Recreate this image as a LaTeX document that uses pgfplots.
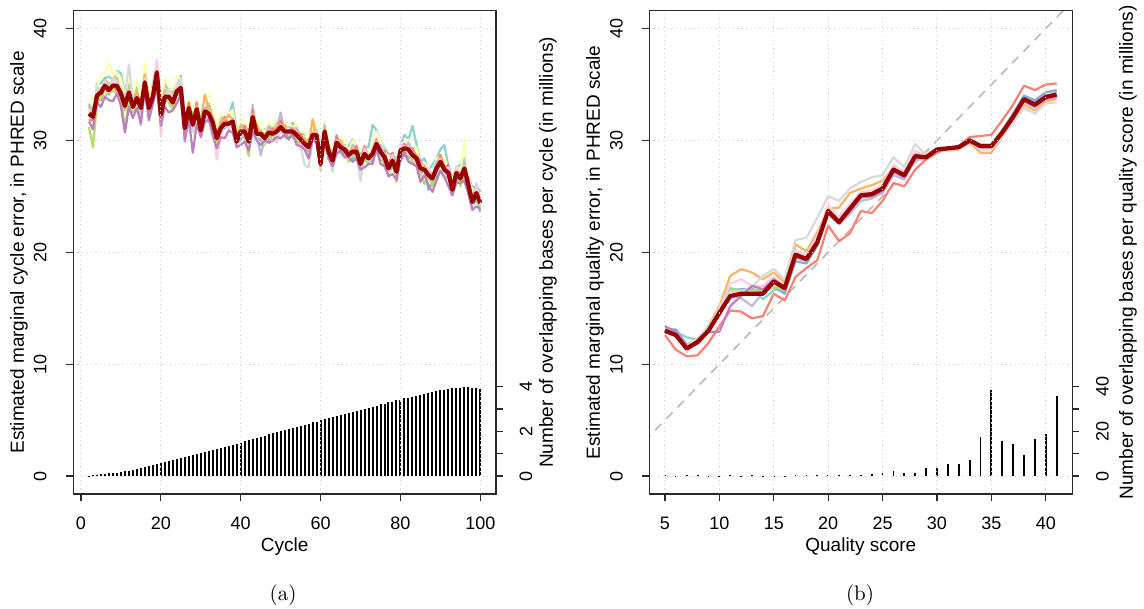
\documentclass[border=0pt]{standalone}
\usepackage{fontspec}
\setsansfont{Liberation Sans}
\usepackage{pgfplots}
\usepackage{pgfplotstable}
\pgfplotsset{compat=1.18}

% Set3 palette for the individual runs, dark red for the consensus
\definecolor{sTeal}{HTML}{8DD3C7}
\definecolor{sYellow}{HTML}{FFFFB3}
\definecolor{sLav}{HTML}{BEBADA}
\definecolor{sSalmon}{HTML}{FB8072}
\definecolor{sBlue}{HTML}{80B1D3}
\definecolor{sOrange}{HTML}{FDB462}
\definecolor{sGreen}{HTML}{B3DE69}
\definecolor{sPink}{HTML}{FCCDE5}
\definecolor{sGray}{HTML}{D9D9D9}
\definecolor{sPurple}{HTML}{BC80BD}
\definecolor{cons}{HTML}{990000}
\definecolor{gridgray}{HTML}{D3D3D3}
\definecolor{framec}{HTML}{2A2A2A}

% cycle, consensus R, ten runs, overlapping bases n (millions)
\pgfplotstableread{
c R t y l s b o g p gr pu n
2 32.4 33.3 33.6 32.1 31.8 33.1 33.1 31.2 32.5 32.8 31.7 0.02
3 32.1 32.5 33.4 32.2 31.8 32.1 32.1 29.4 32.7 32.4 31.0 0.04
4 34.0 35.1 34.8 33.6 33.8 34.4 34.3 33.2 33.9 34.8 33.4 0.06
5 34.3 35.1 35.8 34.6 33.6 34.2 34.7 33.9 34.5 34.4 33.0 0.08
6 34.9 35.6 36.0 34.9 34.9 35.5 34.8 34.0 35.2 35.4 33.9 0.10
7 34.5 35.7 37.0 34.4 34.1 34.8 35.1 34.3 34.3 34.5 33.6 0.12
8 34.9 35.4 35.8 35.3 35.0 35.1 35.1 34.4 35.4 35.6 33.5 0.14
9 34.9 36.2 36.1 34.6 34.3 35.6 35.6 34.3 35.0 35.3 34.2 0.16
10 34.2 36.0 35.5 34.3 33.9 34.2 34.2 34.1 34.8 34.5 33.1 0.19
11 33.1 34.2 33.9 32.7 32.9 33.5 33.4 30.9 33.0 33.9 30.7 0.22
12 34.3 35.1 35.8 34.6 33.6 34.2 34.7 33.9 34.5 36.8 33.0 0.25
13 33.0 33.7 34.1 33.0 33.0 33.6 32.9 32.1 33.3 33.5 32.0 0.28
14 33.8 35.0 35.4 33.7 33.4 34.1 34.4 33.6 33.6 33.8 32.9 0.32
15 32.9 33.4 33.8 33.3 33.0 33.1 33.1 32.4 33.4 31.3 31.5 0.36
16 35.2 36.1 36.9 34.9 34.6 35.9 35.9 34.6 35.3 35.6 34.5 0.40
17 32.9 33.3 34.2 33.0 32.6 32.9 32.9 32.8 33.5 33.2 31.8 0.44
18 33.9 35.0 34.7 33.5 33.7 34.3 34.2 33.1 33.8 34.7 33.3 0.49
19 36.1 36.9 36.8 36.4 35.4 36.0 36.5 35.7 37.2 36.2 34.8 0.54
20 32.3 33.0 33.4 32.3 32.3 32.9 32.2 31.4 30.4 32.8 31.3 0.59
21 33.9 35.1 35.5 33.8 33.5 34.2 34.5 33.7 33.7 33.9 33.0 0.64
22 33.9 34.4 34.8 34.3 34.0 34.1 34.1 33.4 34.4 34.6 32.5 0.68
23 33.4 34.3 34.6 33.1 32.8 34.1 34.1 32.8 33.5 33.8 32.7 0.73
24 34.4 34.8 35.7 34.5 34.1 34.4 34.4 34.3 35.0 34.7 33.3 0.78
25 34.7 35.8 35.5 34.3 34.5 35.1 35.0 33.9 34.6 35.5 34.1 0.82
26 31.1 31.7 32.3 31.6 30.9 30.4 31.6 31.0 30.8 30.6 29.9 0.87
27 32.9 33.4 33.7 33.1 33.4 32.9 32.9 32.3 32.7 32.8 32.0 0.91
28 31.4 32.4 32.7 31.5 31.5 31.1 32.1 31.5 30.7 30.8 28.9 0.96
29 32.8 33.1 33.4 33.4 33.4 32.4 33.1 32.6 32.8 32.9 31.5 1.00
30 30.9 31.6 31.8 30.8 30.8 31.0 31.7 30.6 30.5 30.7 30.3 1.05
31 32.6 32.8 33.6 32.9 32.8 32.0 34.1 32.8 32.7 32.3 31.6 1.09
32 32.4 33.3 34.2 32.2 32.7 32.2 32.8 31.9 31.8 32.6 31.9 1.14
33 31.6 32.2 32.8 32.1 31.4 30.9 32.1 31.5 31.3 31.1 30.4 1.18
34 30.2 30.7 31.0 30.4 30.7 30.2 30.2 29.6 28.3 30.1 29.3 1.23
35 31.1 32.1 32.4 31.2 31.2 30.8 31.8 31.2 30.4 30.5 30.3 1.27
36 31.5 31.8 32.1 32.1 32.1 31.1 31.8 31.3 31.5 31.6 30.2 1.32
37 31.5 32.2 32.4 31.4 31.4 31.6 32.3 31.2 31.1 31.3 30.9 1.36
38 31.7 33.4 32.7 32.0 31.9 31.1 31.8 31.9 31.8 31.4 30.7 1.41
39 29.9 30.8 30.4 29.7 30.2 29.7 30.3 29.4 29.3 30.1 29.4 1.45
40 30.8 31.4 32.0 31.3 30.6 30.1 31.3 30.7 30.5 30.3 29.6 1.50
41 30.8 31.3 31.6 31.0 31.3 30.8 30.8 30.2 30.6 30.7 29.9 1.55
42 29.9 30.9 31.2 30.0 30.0 29.6 30.6 28.6 29.2 29.3 29.1 1.60
43 32.1 32.4 32.7 33.2 32.7 31.7 32.4 31.9 32.1 32.2 30.8 1.65
44 30.6 31.3 31.5 30.5 30.5 30.7 31.4 30.3 30.2 30.4 30.0 1.70
45 30.6 30.8 31.6 28.7 30.8 30.0 30.7 30.8 30.7 30.3 29.6 1.76
46 30.2 31.0 30.5 30.1 30.5 30.0 30.4 29.6 29.8 30.0 30.0 1.81
47 30.7 31.2 31.7 31.3 30.5 30.0 31.0 30.5 30.6 29.8 29.8 1.86
48 30.6 31.0 31.2 30.9 31.1 30.6 30.4 29.9 30.6 30.1 30.0 1.91
49 30.8 31.7 31.9 31.0 30.9 30.5 31.3 30.8 30.3 29.8 30.3 1.96
50 31.2 31.4 31.6 32.5 31.8 30.8 31.3 30.9 31.4 30.9 30.2 2.01
51 30.8 31.4 31.5 30.8 30.7 30.9 31.4 30.4 30.6 30.2 30.5 2.06
52 30.8 30.9 31.6 31.2 31.0 30.2 30.7 30.9 31.1 30.1 30.1 2.11
53 30.8 31.6 31.1 30.7 31.1 30.6 31.0 30.2 30.4 30.6 30.6 2.16
54 30.5 31.0 31.5 31.1 30.3 29.8 30.8 30.3 30.4 29.6 29.6 2.21
55 30.1 30.5 30.7 30.4 30.6 30.1 29.9 29.4 30.1 29.6 29.5 2.25
56 29.7 30.6 30.8 29.9 29.8 29.4 30.2 29.7 29.2 27.8 29.2 2.30
57 29.4 29.6 29.8 30.1 30.0 29.0 29.5 29.1 29.6 27.6 28.4 2.35
58 30.5 31.1 31.2 30.5 30.4 30.6 31.9 30.1 30.3 29.9 30.2 2.40
59 30.5 30.6 31.3 30.9 30.7 29.9 30.4 30.6 30.8 29.8 29.8 2.44
60 27.9 28.7 28.2 27.8 28.2 27.7 28.1 27.3 27.5 27.7 27.7 2.49
61 30.8 31.3 31.8 31.4 30.6 30.1 31.1 30.6 30.7 29.9 29.9 2.54
62 29.0 29.4 29.6 29.3 29.5 29.0 28.8 28.3 29.0 28.5 28.4 2.59
63 28.2 29.1 29.3 28.4 28.3 27.9 28.7 28.2 27.7 27.2 27.7 2.64
64 29.8 30.0 30.2 30.5 30.4 29.4 29.9 29.5 30.0 29.5 28.8 2.69
65 29.4 30.0 30.1 29.4 29.3 29.5 30.0 29.0 29.2 28.8 29.1 2.74
66 29.2 29.3 30.0 29.6 29.4 28.6 29.1 29.3 29.5 28.5 28.5 2.78
67 28.7 29.5 29.0 28.6 29.0 28.5 28.9 28.1 28.3 28.5 28.5 2.83
68 29.0 30.1 30.0 29.6 28.8 28.3 29.3 28.8 28.9 28.1 28.1 2.88
69 29.0 29.4 29.6 29.3 29.5 29.0 28.8 28.3 29.0 28.5 28.4 2.92
70 27.9 28.8 29.0 28.1 28.0 27.6 28.4 27.9 27.4 26.4 27.4 2.97
71 28.8 29.4 29.1 29.5 29.5 28.3 28.7 28.4 29.3 28.9 27.6 3.02
72 28.4 29.4 29.0 28.4 28.4 28.4 28.8 27.9 28.5 28.2 27.9 3.06
73 28.8 31.4 29.5 29.2 29.1 28.1 28.5 28.8 29.4 28.5 27.9 3.11
74 29.7 30.9 30.8 29.6 30.1 29.4 29.7 29.0 29.6 29.9 29.3 3.15
75 29.0 29.9 29.9 29.6 28.9 28.2 29.1 28.7 29.2 28.5 27.9 3.20
76 28.5 29.3 29.0 28.8 29.1 28.4 28.1 27.7 28.8 28.4 27.7 3.24
77 27.5 28.8 28.5 27.7 27.7 27.1 27.8 27.4 27.3 26.9 26.8 3.29
78 28.2 28.8 28.5 28.9 28.9 27.7 28.1 27.8 28.7 28.3 27.0 3.33
79 27.2 28.2 27.8 27.2 27.2 27.2 26.3 26.7 27.3 27.0 26.5 3.38
80 29.1 29.6 29.8 29.5 29.4 28.4 28.8 29.1 29.7 28.8 28.2 3.42
81 29.3 30.5 29.5 29.2 29.7 29.0 29.3 28.6 29.2 29.5 28.9 3.47
82 29.2 30.1 30.1 29.8 29.1 28.4 29.3 28.9 29.4 28.7 28.1 3.51
83 28.7 31.3 29.2 29.0 29.3 28.6 28.3 27.9 29.0 28.6 27.9 3.55
84 28.4 29.7 29.4 28.6 28.6 28.0 28.7 28.3 28.2 27.8 27.7 3.59
85 27.5 28.1 27.8 28.2 28.2 27.0 27.4 27.1 28.0 27.6 26.3 3.63
86 27.4 28.4 28.0 27.4 27.4 27.4 27.8 26.1 27.5 27.2 26.9 3.67
87 26.9 27.4 27.6 27.3 27.2 25.6 26.6 26.9 27.5 26.6 26.0 3.71
88 26.6 27.8 26.8 26.5 27.0 26.3 26.6 25.9 26.5 26.8 25.4 3.75
89 27.5 28.4 28.4 28.1 27.4 26.7 27.6 27.2 27.7 27.0 26.4 3.79
90 28.1 29.2 28.6 28.4 28.7 28.0 27.7 27.3 28.4 28.0 27.3 3.83
91 27.4 29.6 28.4 27.6 27.6 27.0 27.7 27.3 27.2 26.8 26.7 3.86
92 27.1 27.7 27.4 27.8 27.8 26.6 27.0 26.7 27.6 27.2 25.9 3.89
93 25.6 26.6 26.2 25.6 25.6 25.6 26.0 25.1 25.7 25.4 25.1 3.92
94 27.1 27.6 27.8 27.5 27.4 26.4 26.8 27.1 27.7 26.8 26.2 3.94
95 26.6 27.8 26.8 26.5 27.0 26.3 26.6 25.9 26.5 26.8 26.2 3.95
96 27.5 28.4 30.0 28.1 27.4 26.7 27.6 27.2 27.7 27.0 26.4 3.96
97 26.0 26.8 26.6 26.3 26.6 25.9 25.6 25.2 26.3 25.9 25.2 3.96
98 24.5 25.8 25.5 24.7 24.7 24.1 24.8 24.4 24.3 23.9 23.8 3.95
99 25.3 25.9 25.6 26.0 26.0 24.8 25.2 24.9 25.8 26.2 24.1 3.94
100 24.4 25.4 25.0 24.4 24.4 23.6 24.0 23.9 24.5 24.2 23.9 3.90
}\cyc

% quality score, consensus R, ten runs, overlapping bases n (millions)
\pgfplotstableread{
q R t y l s b o g p gr pu n
5 13.0 12.8 12.9 13.2 12.6 12.8 13.0 12.9 13.0 13.1 13.4 0.3
6 12.6 12.9 12.6 13.1 11.3 13.1 12.5 12.5 12.7 12.9 12.9 0.2
7 11.4 12.4 11.5 11.8 10.7 11.7 11.5 11.6 11.1 11.6 11.6 0.5
8 12.0 12.2 12.1 12.1 10.8 12.0 12.2 12.3 12.1 12.3 11.8 0.4
9 13.0 13.0 13.1 13.0 11.9 12.9 13.4 13.0 13.2 13.3 12.9 0.2
10 14.6 14.7 14.8 14.3 13.4 14.6 15.2 14.7 15.0 15.0 12.9 0.2
11 16.1 16.8 16.4 16.1 14.8 16.6 17.9 16.7 17.2 16.5 15.2 0.3
12 16.3 16.6 16.6 15.9 14.7 16.7 18.5 16.6 17.6 16.5 16.1 0.2
13 16.3 16.8 16.6 15.2 14.1 16.7 18.2 16.6 17.0 16.9 17.0 0.3
14 16.3 15.8 16.6 16.4 14.3 16.5 17.6 16.6 17.0 17.9 16.7 0.2
15 17.4 16.6 17.6 17.3 16.3 16.9 18.2 16.9 17.8 18.5 17.6 0.2
16 16.8 17.0 17.0 16.5 15.7 16.3 17.3 16.7 16.9 17.6 16.9 0.2
17 19.8 19.6 20.0 19.5 17.8 19.2 20.7 19.6 20.2 21.1 19.6 0.3
18 19.4 19.5 19.6 19.2 18.6 19.0 20.1 19.4 19.7 21.3 19.3 0.6
19 20.9 20.8 21.0 20.6 19.3 20.6 21.8 20.8 21.5 23.1 20.7 0.4
20 23.7 23.8 23.9 23.4 22.4 23.4 23.9 23.6 24.2 25.0 23.5 0.7
21 22.7 22.8 23.0 22.5 21.0 22.6 24.0 22.7 23.2 24.6 22.6 0.4
22 23.9 24.0 24.2 23.4 21.7 23.8 25.3 23.9 24.3 25.7 23.7 0.6
23 25.1 25.2 25.4 24.6 23.7 25.0 25.7 25.1 25.4 26.3 24.9 0.7
24 25.2 25.3 25.6 24.8 23.5 25.1 26.0 25.2 25.5 26.7 25.0 0.9
25 25.7 25.8 26.0 25.3 24.6 25.6 26.4 25.7 26.0 26.9 25.5 1.5
26 27.4 27.3 27.5 26.9 26.2 27.2 27.6 27.3 27.8 28.5 27.2 2.2
27 26.9 26.9 27.1 26.5 25.9 26.8 27.2 26.8 27.2 27.6 26.7 1.6
28 28.6 28.6 28.7 28.3 27.4 28.5 28.8 28.6 29.1 29.7 28.5 1.5
29 28.5 28.5 28.5 28.3 28.3 28.5 28.6 28.5 28.6 28.7 28.4 3.6
30 29.2 29.2 29.1 29.1 28.9 29.2 29.1 29.2 29.2 29.2 29.1 3.6
31 29.3 29.3 29.2 29.2 29.3 29.3 29.1 29.3 29.3 29.2 29.2 5.4
32 29.4 29.5 29.3 29.3 29.5 29.5 29.2 29.4 29.4 29.2 29.3 5.4
33 30.0 30.1 29.9 29.9 30.3 30.1 29.8 30.0 30.0 29.9 29.9 7.3
34 29.5 29.6 29.4 29.4 30.4 29.6 28.9 29.4 29.5 29.2 29.4 17.3
35 29.5 29.6 29.4 29.4 30.5 29.6 28.9 29.4 29.5 29.2 29.4 38.4
36 30.7 30.9 30.6 30.6 31.8 30.9 30.3 30.7 30.6 30.3 30.6 15.6
37 32.1 32.3 32.0 32.0 33.2 32.4 31.7 32.0 31.9 31.6 32.0 14.3
38 33.7 34.0 33.6 33.6 34.9 34.0 33.2 33.6 33.4 32.9 33.5 9.5
39 33.2 33.5 33.1 33.1 34.5 33.6 32.7 33.1 32.9 32.4 33.0 16.7
40 33.9 34.3 33.8 33.9 35.0 34.3 33.5 33.8 33.7 33.3 33.7 18.6
41 34.1 34.4 34.0 34.0 35.1 34.5 33.7 34.0 33.9 33.4 33.9 35.7
}\qual

\pgfplotsset{
  panel/.style={
    scale only axis, height=241.65pt, anchor=south west,
    ymin=-1.6, ymax=41.6,
    /pgf/number format/assume math mode=true,
    tick label style={font=\sffamily\fontsize{9}{10}\selectfont},
    label style={font=\sffamily\fontsize{9.5}{11}\selectfont},
    tick align=outside, major tick length=3.5pt,
    axis line style={framec, line width=0.6pt},
    every tick/.style={framec, line width=0.6pt},
  },
  mainpanel/.style={
    panel, axis on top,
    ytick={0,10,...,40},
    xtick pos=left, ytick pos=left,
    grid=major,
    major grid style={gridgray, line width=0.5pt, dash pattern=on 0.6pt off 1.6pt},
    yticklabel style={xshift=-13pt, rotate=90, anchor=center},
    xticklabel style={yshift=-11pt, anchor=center},
    xlabel style={at={(axis description cs:0.5,0)}, anchor=center, yshift=-26.5pt},
  },
  countpanel/.style={
    panel, axis x line=none, axis y line*=right,
    yticklabel style={xshift=11.5pt, rotate=90, anchor=center},
  },
  run/.style={line width=1.1pt, line join=round},
  consensus/.style={cons, line width=2.1pt, line join=round},
}

\begin{document}
\begin{tikzpicture}
\path[use as bounding box] (0,0) rectangle (572pt,304.5pt);

% ---------- (a) cycle ----------
\begin{axis}[countpanel, at={(36.65pt,57.5pt)}, width=211.35pt,
    xmin=-1.92, xmax=103.92, ymin=-0.8, ymax=20.8,
    ytick={0,1,2,3,4}, yticklabels={0,,2,,4},
    ylabel={Number of overlapping bases per cycle (in millions)},
    ylabel style={at={(axis description cs:1.123,0.5)}, anchor=center}]
  \addplot[ycomb, black, line width=1pt] table[x=c, y=n] {\cyc};
\end{axis}

\begin{axis}[mainpanel, at={(36.65pt,57.5pt)}, width=211.35pt,
    xmin=-1.92, xmax=103.92, xtick={0,20,...,100},
    xlabel={Cycle},
    ylabel={Estimated marginal cycle error, in PHRED scale},
    ylabel style={at={(axis description cs:-0.1285,0.5)}, anchor=center}]
  \addplot[run, sTeal]   table[x=c, y=t]  {\cyc};
  \addplot[run, sYellow] table[x=c, y=y]  {\cyc};
  \addplot[run, sLav]    table[x=c, y=l]  {\cyc};
  \addplot[run, sSalmon] table[x=c, y=s]  {\cyc};
  \addplot[run, sBlue]   table[x=c, y=b]  {\cyc};
  \addplot[run, sOrange] table[x=c, y=o]  {\cyc};
  \addplot[run, sGreen]  table[x=c, y=g]  {\cyc};
  \addplot[run, sPink]   table[x=c, y=p]  {\cyc};
  \addplot[run, sGray]   table[x=c, y=gr] {\cyc};
  \addplot[run, sPurple] table[x=c, y=pu] {\cyc};
  \addplot[consensus]    table[x=c, y=R]  {\cyc};
\end{axis}

% ---------- (b) quality score ----------
\begin{axis}[countpanel, at={(324.65pt,57.5pt)}, width=211.5pt,
    xmin=3.56, xmax=42.44, ymin=-8, ymax=208,
    ytick={0,10,20,30,40}, yticklabels={0,,20,,40},
    ylabel={Number of overlapping bases per quality score (in millions)},
    ylabel style={at={(axis description cs:1.1317,0.5)}, anchor=center}]
  \addplot[ycomb, black, line width=0.9pt] table[x=q, y=n] {\qual};
\end{axis}

\begin{axis}[mainpanel, at={(324.65pt,57.5pt)}, width=211.5pt,
    xmin=3.56, xmax=42.44, xtick={5,10,...,40},
    xlabel={Quality score},
    ylabel={Estimated marginal quality error, in PHRED scale},
    ylabel style={at={(axis description cs:-0.1284,0.5)}, anchor=center}]
  \addplot[gray!55, line width=0.8pt, dash pattern=on 4.5pt off 3.5pt] coordinates {(0,0) (45,45)};
  \addplot[run, sTeal]   table[x=q, y=t]  {\qual};
  \addplot[run, sYellow] table[x=q, y=y]  {\qual};
  \addplot[run, sLav]    table[x=q, y=l]  {\qual};
  \addplot[run, sSalmon] table[x=q, y=s]  {\qual};
  \addplot[run, sBlue]   table[x=q, y=b]  {\qual};
  \addplot[run, sOrange] table[x=q, y=o]  {\qual};
  \addplot[run, sGreen]  table[x=q, y=g]  {\qual};
  \addplot[run, sPink]   table[x=q, y=p]  {\qual};
  \addplot[run, sGray]   table[x=q, y=gr] {\qual};
  \addplot[run, sPurple] table[x=q, y=pu] {\qual};
  \addplot[consensus]    table[x=q, y=R]  {\qual};
\end{axis}

\node[font=\fontsize{10.5}{12}\selectfont] at (141.5pt,7pt) {(a)};
\node[font=\fontsize{10.5}{12}\selectfont] at (430pt,7pt) {(b)};
\end{tikzpicture}
\end{document}
